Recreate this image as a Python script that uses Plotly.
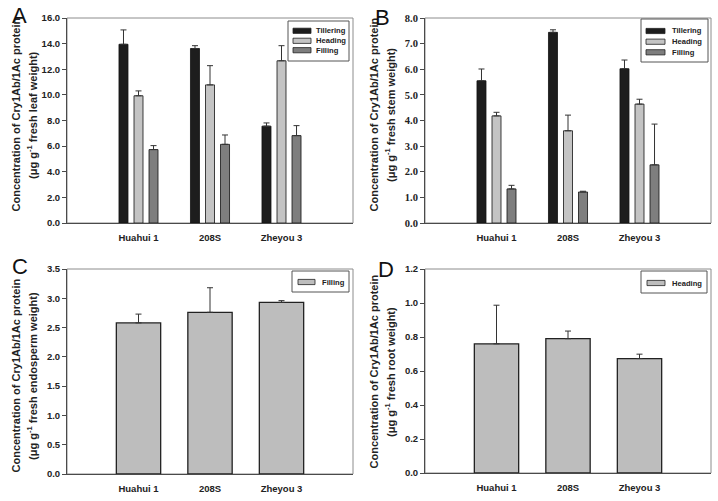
import plotly.graph_objects as go

# ---------------- data ----------------
categories = ["Huahui 1", "208S", "Zheyou 3"]
stages = ["Tillering", "Heading", "Filling"]

leaf_tillering = [13.95, 13.62, 7.56]
leaf_tillering_err = [1.12, 0.22, 0.25]
leaf_heading = [9.93, 10.78, 12.66]
leaf_heading_err = [0.38, 1.50, 1.18]
leaf_filling = [5.73, 6.14, 6.82]
leaf_filling_err = [0.31, 0.73, 0.78]

stem_tillering = [5.55, 7.44, 6.02]
stem_tillering_err = [0.46, 0.10, 0.34]
stem_heading = [4.18, 3.60, 4.64]
stem_heading_err = [0.14, 0.61, 0.19]
stem_filling = [1.33, 1.21, 2.27]
stem_filling_err = [0.14, 0.03, 1.59]

endosperm_filling = [2.58, 2.76, 2.93]
endosperm_filling_err = [0.15, 0.42, 0.03]

root_heading = [0.76, 0.79, 0.673]
root_heading_err = [0.227, 0.045, 0.026]

leaf_ticks = [0, 2, 4, 6, 8, 10, 12, 14, 16]
stem_ticks = [0, 1, 2, 3, 4, 5, 6, 7, 8]
endo_ticks = [0, 0.5, 1.0, 1.5, 2.0, 2.5, 3.0, 3.5]
root_ticks = [0, 0.2, 0.4, 0.6, 0.8, 1.0, 1.2]

title_line1 = "Concentration of Cry1Ab/1Ac protein"
tissues = ["leaf", "stem", "endosperm", "root"]

# ---------------- styling ----------------
W, H = 718, 501
SANS = "Liberation Sans, Arial, sans-serif"
SERIF = "Liberation Serif, Times New Roman, serif"
stage_colors = {"Tillering": "#1d1d1d", "Heading": "#c4c4c4", "Filling": "#7e7e7e"}
single_color = "#bdbdbd"
AX = "#4a4a4a"
FRAME = "#8c8c8c"


def pxx(x):
    return x / W


def pxy(y):
    return 1 - y / H


fig = go.Figure()


def err(vals):
    return dict(type="data", symmetric=False, array=vals, arrayminus=[0] * len(vals),
                color="#333333", thickness=1, width=3)


# panel A
for name, vals, e in [("Tillering", leaf_tillering, leaf_tillering_err),
                      ("Heading", leaf_heading, leaf_heading_err),
                      ("Filling", leaf_filling, leaf_filling_err)]:
    fig.add_trace(go.Bar(x=categories, y=vals, name=name, xaxis="x", yaxis="y",
                         marker=dict(color=stage_colors[name], line=dict(color="#111111", width=0.8)),
                         error_y=err(e), showlegend=False))
# panel B
for name, vals, e in [("Tillering", stem_tillering, stem_tillering_err),
                      ("Heading", stem_heading, stem_heading_err),
                      ("Filling", stem_filling, stem_filling_err)]:
    fig.add_trace(go.Bar(x=categories, y=vals, name=name, xaxis="x2", yaxis="y2",
                         marker=dict(color=stage_colors[name], line=dict(color="#111111", width=0.8)),
                         error_y=err(e), showlegend=False))
# panel C
fig.add_trace(go.Bar(x=categories, y=endosperm_filling, name="Filling", xaxis="x3", yaxis="y3",
                     width=0.62,
                     marker=dict(color=single_color, line=dict(color="#222222", width=1.3)),
                     error_y=err(endosperm_filling_err), showlegend=False))
# panel D
fig.add_trace(go.Bar(x=categories, y=root_heading, name="Heading", xaxis="x4", yaxis="y4",
                     width=0.62,
                     marker=dict(color=single_color, line=dict(color="#222222", width=1.3)),
                     error_y=err(root_heading_err), showlegend=False))

panels = [
    # suffix, x0, x1, ytop, ybottom, yrange, ticks, tickfont family
    ("", 67, 353, 18, 223, [0, 16], leaf_ticks, SANS),
    ("2", 425, 711, 18, 223, [0, 8], stem_ticks, SERIF),
    ("3", 67, 353, 269, 474, [0, 3.5], endo_ticks, SANS),
    ("4", 425, 711, 269, 473, [0, 1.2], root_ticks, SANS),
]

layout = dict(
    template="none",
    width=W, height=H,
    margin=dict(l=0, r=0, t=0, b=0, pad=0, autoexpand=False),
    paper_bgcolor="white", plot_bgcolor="white",
    barmode="group", bargap=0.37, bargroupgap=0.4,
    showlegend=False,
    font=dict(family=SANS, color="#222222"),
)

shapes = []
annotations = []

for suf, x0, x1, yt, yb, yr, ticks, fam in panels:
    layout["xaxis" + suf] = dict(
        domain=[pxx(x0), pxx(x1)], anchor="y" + suf, type="category",
        categoryorder="array", categoryarray=categories, range=[-1, 3],
        showline=True, linecolor=AX, linewidth=1, ticks="", showgrid=False,
        zeroline=False, ticklabelstandoff=6, automargin=False,
        tickfont=dict(family=SANS, size=9.5, weight="bold", color="#222222"),
    )
    layout["yaxis" + suf] = dict(
        domain=[pxy(yb), pxy(yt)], anchor="x" + suf, range=yr,
        tickvals=ticks, tickformat=".1f", ticks="outside", ticklen=4,
        tickcolor=AX, tickwidth=1, showline=True, linecolor=AX, linewidth=1,
        showgrid=False, zeroline=False, automargin=False,
        tickfont=dict(family=fam, size=9.5 if fam == SANS else 10.5, weight="bold", color="#222222"),
    )
    shapes.append(dict(type="rect", xref="x" + suf + " domain" if suf else "x domain",
                       yref="y" + suf + " domain" if suf else "y domain",
                       x0=0, x1=1, y0=0, y1=1, line=dict(color=FRAME, width=1), layer="below"))

# y-axis titles (two rotated lines each)
title_pos = [(15.5, 32, 115), (373.5, 390, 115), (15.5, 32, 376), (373.5, 390, 372)]
for (l1x, l2x, cy), tissue in zip(title_pos, tissues):
    for lx, txt in [(l1x, title_line1),
                    (l2x, "(μg g<sup>-1</sup> fresh " + tissue + " weight)")]:
        annotations.append(dict(
            xref="paper", yref="paper", x=pxx(lx), y=pxy(cy), xanchor="center", yanchor="middle",
            textangle=-90, showarrow=False, text=txt,
            font=dict(family=SANS, size=11, weight="bold", color="#222222"),
        ))

# panel letters
for letter, cx, cy in [("A", 19.5, 16), ("B", 382.5, 18), ("C", 19.5, 266), ("D", 385.5, 269)]:
    annotations.append(dict(xref="paper", yref="paper", x=pxx(cx), y=pxy(cy),
                            xanchor="center", yanchor="middle", showarrow=False, text=letter,
                            font=dict(family=SANS, size=22, color="#111111")))

# legends (box, swatches, labels)
legend_boxes = [
    (288, 349, 21, 61, 293, 311, 314, [30.8, 40.8, 50.2], stages, [stage_colors[s] for s in stages]),
    (641, 708, 19, 62, 646, 665, 670, [31, 41.7, 52.3], stages, [stage_colors[s] for s in stages]),
    (292, 349, 271, 292, 298, 315, 320, [282], ["Filling"], [single_color]),
    (641, 707, 271, 293, 647, 665, 670, [283], ["Heading"], [single_color]),
]
for bx0, bx1, by0, by1, sx0, sx1, tx, rows, names, cols in legend_boxes:
    shapes.append(dict(type="rect", xref="paper", yref="paper",
                       x0=pxx(bx0), x1=pxx(bx1), y0=pxy(by1), y1=pxy(by0),
                       line=dict(color="#555555", width=1), fillcolor="white", layer="above"))
    for ry, nm, col in zip(rows, names, cols):
        shapes.append(dict(type="rect", xref="paper", yref="paper",
                           x0=pxx(sx0), x1=pxx(sx1), y0=pxy(ry + 2.6), y1=pxy(ry - 2.6),
                           line=dict(color="#222222", width=0.8), fillcolor=col, layer="above"))
        annotations.append(dict(xref="paper", yref="paper", x=pxx(tx), y=pxy(ry),
                                xanchor="left", yanchor="middle", showarrow=False, text=nm,
                                font=dict(family=SANS, size=7.6, weight="bold", color="#222222")))

layout["shapes"] = shapes
layout["annotations"] = annotations
fig.update_layout(**layout)

fig.write_html(
    "out.html",
    config={"displayModeBar": False},
    post_script="document.body.style.margin='0';document.body.style.padding='0';"
                "document.body.style.overflow='hidden';",
)
